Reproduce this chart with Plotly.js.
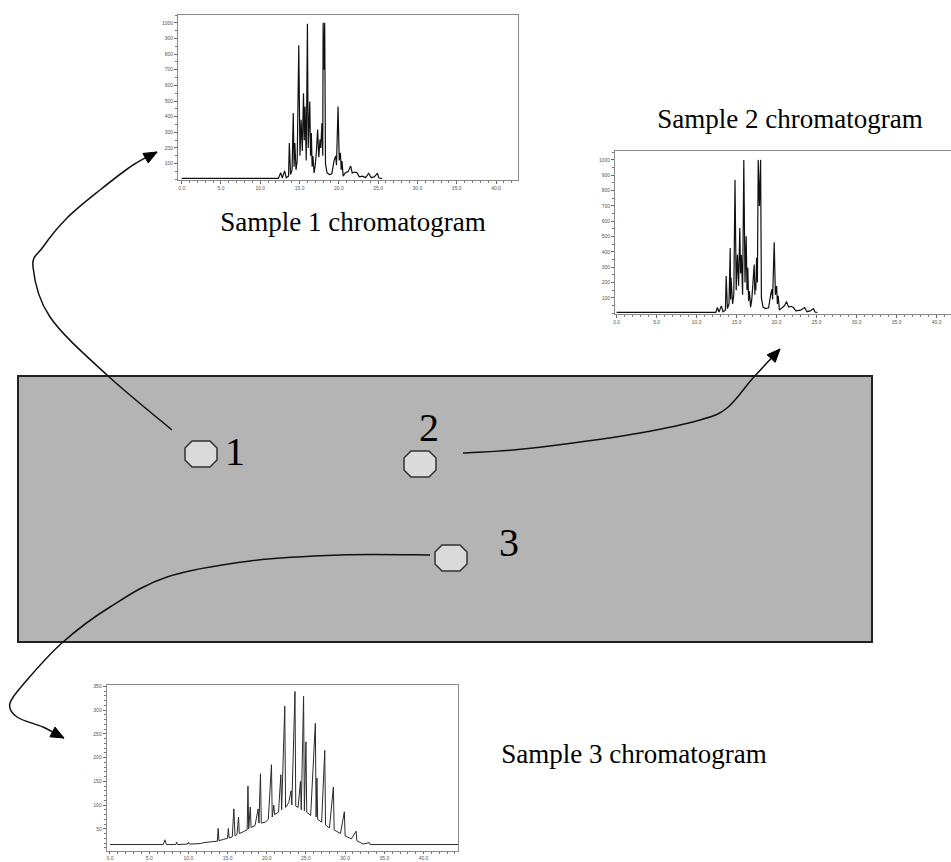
<!DOCTYPE html>
<html>
<head>
<meta charset="utf-8">
<script src="https://cdn.plot.ly/plotly-3.0.1.min.js"></script>
<style>html,body{margin:0;padding:0;background:#fff;}#chart{width:951px;height:862px;}</style>
</head>
<body>
<div id="chart"></div>
<script>
// ---------------- DATA ----------------
// Sample 1 chromatogram (retention time, min / detector response)
const s1Time = [0, 12.3, 12.6, 12.8, 13.1, 13.3, 13.6, 13.7, 13.85, 14.05, 14.2, 14.3, 14.4, 14.55, 14.7, 14.9, 15.05, 15.2, 15.35, 15.5, 15.6, 15.7, 15.85, 16.0, 16.1, 16.3, 16.4, 16.5, 16.6, 16.7, 16.85, 17.0, 17.15, 17.3, 17.45, 17.6, 17.7, 17.85, 17.95, 18.0, 18.1, 18.2, 18.3, 18.5, 18.8, 19.1, 19.4, 19.6, 19.7, 19.9, 20.05, 20.2, 20.3, 20.4, 20.55, 20.8, 21.2, 21.5, 21.7, 22.0, 22.3, 22.6, 23.0, 23.4, 23.8, 24.1, 24.5, 24.9, 25.1, 25.5];
const s1Signal = [5, 5, 42, 8, 53, 10, 20, 232, 30, 60, 423, 80, 232, 60, 120, 856, 150, 380, 180, 550, 250, 465, 120, 994, 200, 497, 150, 296, 80, 148, 40, 90, 180, 317, 140, 254, 200, 359, 150, 1000, 700, 1000, 100, 40, 30, 35, 120, 148, 90, 465, 120, 169, 60, 116, 20, 40, 50, 85, 40, 45, 42, 15, 20, 10, 38, 10, 15, 38, 8, 5];

// Sample 2 chromatogram
const s2Time = [0, 12.4, 12.6, 12.8, 13.1, 13.3, 13.6, 13.7, 13.85, 14.05, 14.2, 14.25, 14.3, 14.5, 14.65, 14.8, 14.95, 15.1, 15.25, 15.4, 15.5, 15.6, 15.75, 15.9, 16.05, 16.2, 16.3, 16.4, 16.5, 16.6, 16.75, 16.9, 17.05, 17.2, 17.28, 17.3, 17.4, 17.5, 17.6, 17.7, 17.85, 18.0, 18.1, 18.3, 18.6, 19.0, 19.25, 19.4, 19.5, 19.7, 19.85, 20.0, 20.1, 20.2, 20.35, 20.7, 21.0, 21.25, 21.5, 21.8, 22.1, 22.4, 23.0, 23.5, 23.8, 24.2, 24.6, 24.8, 25.1];
const s2Signal = [5, 5, 37, 8, 48, 10, 20, 242, 30, 60, 426, 90, 232, 60, 120, 870, 150, 383, 180, 556, 260, 379, 120, 1000, 200, 502, 150, 297, 80, 145, 40, 90, 180, 318, 120, 199, 150, 361, 200, 1000, 700, 1000, 100, 40, 30, 35, 120, 156, 90, 463, 120, 178, 60, 113, 20, 40, 50, 76, 40, 45, 37, 15, 20, 37, 10, 15, 30, 8, 5];

// Sample 3 chromatogram (hump with superimposed peaks)
const s3Time = [0, 6.8, 7.0, 7.2, 8.4, 8.5, 8.6, 9.9, 10.0, 10.1, 11.5, 12.0, 13.0, 13.7, 13.8, 13.9, 14.5, 15.0, 15.1, 15.2, 15.6, 15.8, 15.95, 16.2, 16.4, 16.5, 17.0, 17.5, 17.6, 17.7, 17.9, 18.0, 18.5, 18.9, 19.0, 19.2, 19.3, 19.8, 20.2, 20.6, 20.7, 20.9, 21.0, 21.5, 21.8, 21.9, 22.3, 22.4, 22.8, 23.1, 23.2, 23.6, 23.7, 24.0, 24.3, 24.4, 24.7, 24.8, 25.0, 25.1, 25.6, 26.2, 26.3, 26.4, 26.5, 27.0, 27.4, 27.5, 28.0, 28.5, 28.6, 29.4, 29.9, 30.0, 30.8, 31.4, 31.5, 32.3, 33.1, 33.2, 44.5];
const s3Signal = [17, 17, 27, 17, 17, 22, 17, 18, 22, 18, 19, 21, 23, 24, 51, 25, 28, 30, 51, 31, 33, 92, 35, 38, 75, 40, 44, 48, 140, 50, 96, 53, 57, 92, 62, 166, 62, 64, 70, 185, 75, 100, 80, 85, 164, 90, 308, 95, 105, 130, 100, 339, 98, 95, 150, 90, 329, 88, 233, 85, 78, 272, 75, 157, 70, 64, 215, 58, 52, 138, 48, 40, 86, 35, 29, 45, 25, 18, 21, 17, 17];

// Tick labels
const timeTicks = [0, 5, 10, 15, 20, 25, 30, 35, 40];
const timeTickText = ["0.0", "5.0", "10.0", "15.0", "20.0", "25.0", "30.0", "35.0", "40.0"];
const respTicks12 = [100, 200, 300, 400, 500, 600, 700, 800, 900, 1000];
const respTicks3 = [50, 100, 150, 200, 250, 300, 350];

const captions = ["Sample 1 chromatogram", "Sample 2 chromatogram", "Sample 3 chromatogram"];
const spotLabels = ["1", "2", "3"];

// ---------------- LAYOUT HELPERS ----------------
const W = 951, H = 862;
const serif = "Liberation Serif, Times New Roman, serif";

function xaxisCfg(dom, rng, anchor, tl) {
  return {
    domain: dom, range: rng, anchor: anchor,
    showline: true, mirror: true, linecolor: "#8a8a8a", linewidth: 1,
    ticks: "outside", ticklen: tl, tickcolor: "#666",
    tickvals: timeTicks, ticktext: timeTickText,
    tickfont: {size: 5, color: "#555", family: "Arial"},
    minor: {ticks: "outside", ticklen: 2, dtick: 1, tickcolor: "#777"},
    showgrid: false, zeroline: false, fixedrange: true
  };
}
function yaxisCfg(dom, rng, anchor, vals, minorD) {
  return {
    domain: dom, range: rng, anchor: anchor,
    showline: true, mirror: true, linecolor: "#8a8a8a", linewidth: 1,
    ticks: "outside", ticklen: 3, tickcolor: "#666",
    tickvals: vals,
    tickfont: {size: 5, color: "#555", family: "Arial"},
    minor: {ticks: "outside", ticklen: 2, dtick: minorD, tickcolor: "#777"},
    showgrid: false, zeroline: false, fixedrange: true
  };
}

// Catmull-Rom -> cubic Bezier path
function smoothPath(pts) {
  let d = "M" + pts[0][0] + "," + pts[0][1];
  for (let i = 0; i < pts.length - 1; i++) {
    const p0 = pts[Math.max(i - 1, 0)], p1 = pts[i], p2 = pts[i + 1], p3 = pts[Math.min(i + 2, pts.length - 1)];
    const c1 = [p1[0] + (p2[0] - p0[0]) / 6, p1[1] + (p2[1] - p0[1]) / 6];
    const c2 = [p2[0] - (p3[0] - p1[0]) / 6, p2[1] - (p3[1] - p1[1]) / 6];
    d += " C" + c1[0].toFixed(1) + "," + c1[1].toFixed(1) + " " + c2[0].toFixed(1) + "," + c2[1].toFixed(1) + " " + p2[0] + "," + p2[1];
  }
  return d;
}
function arrowHead(tip, prev, L, Wd) {
  let dx = tip[0] - prev[0], dy = tip[1] - prev[1];
  const n = Math.hypot(dx, dy); dx /= n; dy /= n;
  const bx = tip[0] - dx * L, by = tip[1] - dy * L;
  const nx = -dy, ny = dx;
  return "M" + tip[0] + "," + tip[1] + " L" + (bx + nx * Wd / 2).toFixed(1) + "," + (by + ny * Wd / 2).toFixed(1) +
    " L" + (bx - nx * Wd / 2).toFixed(1) + "," + (by - ny * Wd / 2).toFixed(1) + " Z";
}
function octagon(cx, cy, w, h) {
  const a = w / 2, b = h / 2, cxo = w * 0.22, cyo = h * 0.27;
  const p = [[cx - a + cxo, cy - b], [cx + a - cxo, cy - b], [cx + a, cy - b + cyo], [cx + a, cy + b - cyo],
             [cx + a - cxo, cy + b], [cx - a + cxo, cy + b], [cx - a, cy + b - cyo], [cx - a, cy - b + cyo]];
  return "M" + p.map(q => q[0].toFixed(1) + "," + q[1].toFixed(1)).join(" L") + " Z";
}

// ---------------- TRACES ----------------
const lineStyle = {color: "#111", width: 1.2};
const traces = [
  {x: s1Time, y: s1Signal, type: "scatter", mode: "lines", line: lineStyle, xaxis: "x", yaxis: "y", hoverinfo: "skip", showlegend: false},
  {x: s2Time, y: s2Signal, type: "scatter", mode: "lines", line: lineStyle, xaxis: "x2", yaxis: "y2", hoverinfo: "skip", showlegend: false},
  {x: s3Time, y: s3Signal, type: "scatter", mode: "lines", line: {color: "#2a2a2a", width: 1}, xaxis: "x3", yaxis: "y3", hoverinfo: "skip", showlegend: false},
  // spot numbers and captions on the full-page overlay axes
  {x: [235, 429, 509], y: [455, 431, 546], text: spotLabels, type: "scatter", mode: "text",
   textfont: {family: serif, size: 40, color: "#000"}, xaxis: "x4", yaxis: "y4", hoverinfo: "skip", showlegend: false},
  {x: [353, 790, 634], y: [224, 121, 756], text: captions, type: "scatter", mode: "text",
   textfont: {family: serif, size: 27, color: "#000"}, xaxis: "x4", yaxis: "y4", hoverinfo: "skip", showlegend: false}
];

// ---------------- SHAPES ----------------
const arrows = [
  [[172, 430], [107, 375], [50, 317], [33, 267], [43, 247], [67, 218], [100, 190], [133, 165], [157, 152]],
  [[463, 453], [513, 450], [573, 443], [640, 433], [700, 420], [727, 408], [753, 378], [780, 349]],
  [[430, 555], [340, 555], [250, 561], [167, 577], [110, 607], [63, 642], [27, 680], [10, 703], [17, 717], [43, 727], [64, 738]]
];
const spots = [[201, 454], [420, 464], [451, 558]];

const shapes = [
  {type: "rect", xref: "x4", yref: "y4", x0: 18, x1: 872, y0: 376, y1: 642,
   fillcolor: "#b4b4b4", line: {color: "#222", width: 2}, layer: "below"}
];
spots.forEach(s => shapes.push({type: "path", xref: "x4", yref: "y4", path: octagon(s[0], s[1], 32, 26),
  fillcolor: "#dadada", line: {color: "#333", width: 1.5}, layer: "below"}));
arrows.forEach(a => {
  const tip = a[a.length - 1], prev = a[a.length - 2];
  shapes.push({type: "path", xref: "x4", yref: "y4", path: smoothPath(a), line: {color: "#111", width: 1.5}, layer: "below"});
  shapes.push({type: "path", xref: "x4", yref: "y4", path: arrowHead(tip, prev, 13, 11), fillcolor: "#000", line: {color: "#000", width: 1}, layer: "below"});
});

// ---------------- LAYOUT ----------------
const layout = {
  width: W, height: H,
  margin: {l: 0, r: 0, t: 0, b: 0},
  paper_bgcolor: "#fff", plot_bgcolor: "rgba(0,0,0,0)",
  showlegend: false,
  xaxis: xaxisCfg([178 / W, 518 / W], [-0.47, 42.8], "y", 3),
  yaxis: yaxisCfg([1 - 180 / H, 1 - 15 / H], [-5, 1050], "x", respTicks12, 50),
  xaxis2: xaxisCfg([615 / W, 1], [-0.2, 41.8], "y2", 3),
  yaxis2: yaxisCfg([1 - 314 / H, 1 - 151 / H], [-5, 1058], "x2", respTicks12, 50),
  xaxis3: xaxisCfg([106.7 / W, 458 / W], [-0.42, 44.4], "y3", 2),
  yaxis3: yaxisCfg([1 - 851 / H, 1 - 685 / H], [3.4, 352.7], "x3", respTicks3, 10),
  xaxis4: {domain: [0, 1], range: [0, W], anchor: "y4", visible: false, fixedrange: true},
  yaxis4: {domain: [0, 1], range: [H, 0], anchor: "x4", visible: false, fixedrange: true},
  shapes: shapes
};

Plotly.newPlot("chart", traces, layout, {staticPlot: true, displayModeBar: false});
</script>
</body>
</html>
